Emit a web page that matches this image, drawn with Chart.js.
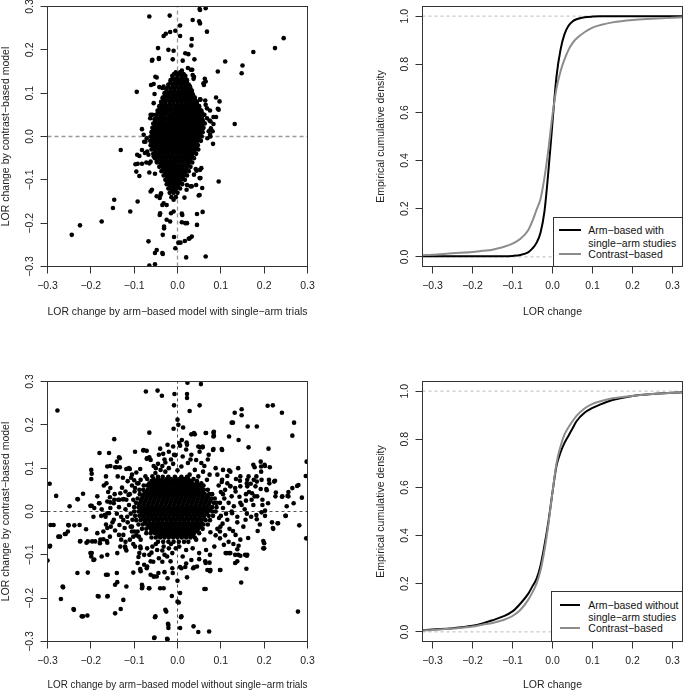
<!DOCTYPE html>
<html>
<head>
<meta charset="utf-8">
<title>LOR change: arm-based vs contrast-based</title>
<script src="https://cdn.jsdelivr.net/npm/chart.js@4.4.1/dist/chart.umd.min.js"></script>
<style>
  body { margin: 0; background: #fff; }
  #wrap { position: relative; width: 683px; height: 691px; overflow: hidden; font-family: "Liberation Sans", Arial, sans-serif; }
  canvas { position: absolute; }
  .legend { position: absolute; box-sizing: border-box; background: #fff; border: 1px solid #333; font-size: 10.5px; color: #111; }
  .legend span { position: absolute; line-height: 12px; white-space: nowrap; }
  .legend .ln { position: absolute; height: 2px; }
</style>
</head>
<body>
<div id="wrap">
  <canvas id="c1" width="330" height="330" style="left:0;top:0"></canvas>
  <canvas id="c2" width="308" height="330" style="left:375px;top:0"></canvas>
  <canvas id="c3" width="330" height="316" style="left:0;top:375px"></canvas>
  <canvas id="c4" width="308" height="316" style="left:375px;top:375px"></canvas>

  <div class="legend" style="left:552.5px;top:217px;width:130.5px;height:50px">
    <div class="ln" style="left:5.5px;top:11px;width:21.7px;background:#000"></div>
    <span style="left:34.8px;top:6px">Arm−based with</span>
    <span style="left:34.8px;top:18.6px">single−arm studies</span>
    <div class="ln" style="left:5.5px;top:35px;width:21.7px;background:#8c8c8c"></div>
    <span style="left:34.8px;top:30px">Contrast−based</span>
  </div>
  <div class="legend" style="left:550.5px;top:590.5px;width:132.5px;height:51.5px">
    <div class="ln" style="left:8.5px;top:12.5px;width:19.5px;background:#000"></div>
    <span style="left:36.8px;top:7.5px">Arm−based without</span>
    <span style="left:36.8px;top:19.8px">single−arm studies</span>
    <div class="ln" style="left:8.5px;top:35.8px;width:19.5px;background:#8c8c8c"></div>
    <span style="left:36.8px;top:30.8px">Contrast−based</span>
  </div>
</div>
<script>
// ---- data (LOR change values) ----

// scatter 1: arm-based with single-arm trials (x) vs contrast-based (y), scattered points
const withSingleArm = [
  [-.065,.277],[-.018,.279],[.051,.294],[.065,.296],[.035,.269],[.05,.266],[.052,.261],[.006,.256],[.068,.242],
  [-.005,.244],[-.017,.241],[-.027,.237],[-.032,.232],[.006,.232],[.033,.225],[.032,.21],[-.045,.204],[-.021,.2],
  [-.009,.198],[.018,.192],[.025,.19],[-.059,.175],[-.043,.179],[-.011,.178],[.012,.175],[.039,.178],[.024,.158],
  [.031,.154],[.01,.152],[.035,.142],[.037,.133],[.063,.133],[.06,.123],[-.048,.136],[-.032,.115],[-.055,.121],
  [-.042,.114],[-.094,.103],[.029,.115],[.033,.106],[-.034,.088],[-.055,.077],[.052,.086],[.064,.083],[.089,.09],
  [.097,.081],[.068,.065],[.095,.062],[.075,.06],[-.062,.05],[-.063,.042],[.062,.05],[.068,.042],[.074,.037],
  [.083,.045],[.089,.045],[.132,.029],[.083,.029],[.077,.019],[.072,.012],[-.082,.017],[-.078,.004],[-.071,-.004],
  [-.077,-.012],[.075,.004],[.069,-.004],[.082,-.017],[-.131,-.031],[-.082,-.031],[-.075,-.038],[-.088,-.045],
  [-.067,-.042],[-.072,-.06],[-.092,-.063],[-.082,-.063],[-.065,-.062],[-.055,-.046],[-.048,-.058],[-.095,-.081],
  [-.088,-.091],[-.065,-.083],[-.052,-.086],[.095,-.104],[.042,-.075],[.052,-.077],[.038,-.088],[.051,-.096],
  [.043,-.112],[.033,-.115],[.022,-.112],[-.062,-.127],[-.059,-.123],[-.038,-.131],[-.041,-.142],[-.048,-.138],
  [.051,-.135],[-.032,-.154],[-.025,-.158],[-.009,-.146],[-.146,-.146],[-.149,-.165],[-.092,-.15],[-.109,-.173],
  [-.04,-.177],[-.041,-.181],[-.015,-.177],[-.009,-.173],[.045,-.179],[.058,-.174],[-.025,-.192],[-.017,-.196],
  [.01,-.178],[-.175,-.196],[-.225,-.205],[-.244,-.227],[.01,-.198],[.022,-.2],[.045,-.204],[-.031,-.212],
  [-.034,-.227],[.033,-.231],[.028,-.235],[-.067,-.242],[-.008,-.232],[-.005,-.258],[.002,-.245],[.007,-.245],
  [.017,-.241],[-.048,-.262],[-.052,-.269],[-.034,-.271],[.02,-.279],[.065,-.277],[-.065,-.298],[-.052,-.295],
  [.245,.227],[.225,.204],[.175,.195],[.11,.173],[.15,.164],[.148,.146],[.093,.15],
  [-.074,-.012],[-.093,-.042],[-.097,-.064],[-.07,-.035],[-.062,-.058],[-.054,.012],[-.058,.05],[-.061,.119],
  [-.053,.098],[-.051,.138],[-.058,.177],[-.043,.181],[-.035,.112],[-.039,-.135],[-.035,-.158],[-.031,-.208],
  [-.035,-.269],[.052,.292],[.093,.064],[.076,.035],[.081,.012],[.076,0],[.065,.127],[.061,.119],[.034,.154],
  [.038,.138],[.053,.085],[.065,.073],[.045,.065],[.055,-.073],[.044,-.079],[.053,-.096],[.057,-.119],
  [.049,-.136],[.03,-.115],[.021,-.123],[.016,-.141],[.011,-.181],[.018,-.2],[.026,-.236]
];
// dense core of scatter 1, one row per y value: [y, x, x, ...]
const withSingleArmCore = [
  [.148,-.004,.006],
  [.144,-.008,.004,.014],
  [.14,-.012,0,.01,.018],
  [.135,-.011,-.001,.009,.018],
  [.13,-.016,-.006,.004,.013,.022],
  [.125,-.016,-.006,.003,.012,.021],
  [.12,-.021,-.011,-.002,.008,.017,.026],
  [.115,-.021,-.011,-.002,.007,.016,.025],
  [.11,-.026,-.016,-.007,.003,.012,.021,.03],
  [.105,-.025,-.016,-.007,.002,.011,.02,.029],
  [.1,-.03,-.021,-.012,-.002,.007,.016,.025,.034],
  [.095,-.029,-.02,-.01,-.001,.009,.018,.027,.036],
  [.09,-.034,-.025,-.015,-.006,.004,.013,.022,.031,.04],
  [.085,-.033,-.024,-.014,-.005,.004,.013,.022,.031,.04],
  [.08,-.038,-.029,-.019,-.01,0,.009,.018,.027,.036,.045],
  [.075,-.037,-.028,-.018,-.009,0,.009,.018,.027,.036,.045],
  [.07,-.042,-.033,-.023,-.014,-.004,.005,.014,.023,.032,.041,.05],
  [.065,-.041,-.031,-.022,-.013,-.003,.006,.015,.024,.033,.042,.05],
  [.06,-.046,-.036,-.027,-.018,-.008,.001,.01,.019,.028,.037,.046,.055],
  [.055,-.045,-.035,-.026,-.016,-.007,.002,.011,.02,.029,.038,.047,.056],
  [.05,-.05,-.04,-.031,-.021,-.012,-.003,.006,.015,.024,.033,.042,.051,.06],
  [.045,-.048,-.038,-.029,-.019,-.01,-.001,.008,.017,.026,.035,.044,.053],
  [.04,-.053,-.043,-.034,-.024,-.015,-.006,.003,.012,.021,.03,.039,.048,.057],
  [.035,-.051,-.041,-.032,-.022,-.013,-.004,.005,.014,.023,.032,.041,.05,.059],
  [.03,-.056,-.046,-.037,-.027,-.018,-.009,0,.009,.018,.027,.036,.045,.054,.063],
  [.025,-.053,-.043,-.034,-.025,-.016,-.007,.002,.011,.02,.029,.038,.047,.056],
  [.02,-.058,-.048,-.039,-.03,-.021,-.012,-.003,.006,.015,.024,.033,.042,.051,.06],
  [.015,-.055,-.045,-.036,-.027,-.018,-.009,0,.009,.018,.027,.036,.045,.054],
  [.01,-.06,-.05,-.041,-.032,-.023,-.014,-.005,.004,.013,.022,.031,.04,.049,.058],
  [.005,-.057,-.047,-.038,-.029,-.02,-.011,-.002,.007,.016,.025,.034,.043,.052],
  [0,-.062,-.052,-.043,-.034,-.025,-.016,-.007,.002,.011,.02,.029,.038,.047,.056],
  [-.005,-.058,-.048,-.039,-.03,-.021,-.012,-.003,.006,.015,.024,.033,.042,.05],
  [-.01,-.063,-.053,-.044,-.035,-.026,-.017,-.008,.001,.01,.019,.028,.037,.046,.054],
  [-.015,-.058,-.048,-.039,-.03,-.021,-.012,-.003,.006,.015,.024,.033,.042],
  [-.02,-.062,-.052,-.043,-.034,-.025,-.016,-.007,.002,.011,.02,.029,.038,.047],
  [-.025,-.056,-.046,-.037,-.028,-.019,-.01,-.001,.008,.017,.026,.035,.044],
  [-.03,-.06,-.05,-.041,-.032,-.023,-.014,-.005,.004,.013,.022,.031,.04,.048],
  [-.035,-.052,-.042,-.033,-.024,-.015,-.006,.003,.012,.021,.03,.039],
  [-.04,-.056,-.047,-.038,-.029,-.02,-.011,-.002,.007,.016,.025,.034,.043],
  [-.045,-.048,-.039,-.03,-.021,-.012,-.003,.006,.015,.024,.033],
  [-.05,-.052,-.043,-.034,-.025,-.016,-.007,.002,.011,.02,.029,.038],
  [-.055,-.043,-.034,-.025,-.016,-.007,.002,.011,.02,.029],
  [-.06,-.047,-.038,-.029,-.02,-.011,-.002,.007,.016,.025,.034],
  [-.065,-.038,-.029,-.02,-.011,-.002,.007,.016,.025],
  [-.07,-.042,-.033,-.024,-.015,-.006,.003,.012,.021,.03],
  [-.075,-.033,-.024,-.015,-.006,.003,.012,.021],
  [-.08,-.037,-.028,-.019,-.01,-.001,.008,.017,.026],
  [-.085,-.028,-.019,-.01,-.001,.008,.017],
  [-.09,-.032,-.023,-.014,-.005,.004,.013,.022],
  [-.095,-.024,-.015,-.006,.003,.012],
  [-.1,-.028,-.019,-.01,-.001,.008,.017],
  [-.105,-.021,-.012,-.003,.006],
  [-.11,-.025,-.016,-.007,.002,.011],
  [-.115,-.017,-.008,.001],
  [-.12,-.021,-.012,-.003,.006],
  [-.125,-.014,-.005],
  [-.13,-.018,-.009,0],
  [-.14,-.014,-.004]
];

// scatter 2: arm-based without single-arm trials (x) vs contrast-based (y)
const withoutSingleArm = [
  [.023,.297],[.054,.294],[-.073,.277],[-.046,.279],[-.036,.267],[-.007,.271],[.022,.271],[.022,.262],[.051,.245],
  [-.008,.245],[.028,.232],[-.277,.233],[.148,.222],[.132,.228],[.208,.244],[.22,.245],[.241,.228],[.269,.205],
  [0,.212],[.002,.2],[-.009,.191],[-.065,.182],[.125,.205],[.162,.196],[.183,.196],[.265,.175],[.032,.178],
  [.04,.178],[.065,.181],[.083,.182],[.083,.173],[.022,.154],[.119,.173],[.141,.165],[.164,.148],[.21,.145],
  [-.146,.167],[-.023,.154],[.006,.152],[.052,.148],[.058,.148],[.102,.144],[.083,.144],[-.18,.135],[-.078,.142],
  [-.071,.14],[-.098,.138],[-.065,.125],[-.071,.122],[-.135,.125],[-.14,.115],[-.162,.104],[-.155,.105],
  [-.144,.102],[-.133,.102],[-.118,.098],[-.11,.098],[-.086,.098],[-.199,.096],[-.199,.075],[-.165,.081],
  [-.138,.081],[-.126,.078],[-.107,.078],[-.295,.064],[-.28,.036],[-.23,.028],[-.218,.041],[.298,.115],
  [.296,.082],[.279,.061],[.287,.032],[.254,.036],[.241,.034],[.252,.012],[.25,-.01],[.268,.019],[.193,.104],
  [.202,.105],[.213,.102],[.193,.092],[.182,.081],[.164,.081],[.145,.081],[.122,.092],[.105,.096],[.178,.102],
  [.16,.065],[.169,.064],[.183,.069],[.18,.058],[.192,.052],[.206,.049],[.212,.065],[.223,.069],[.145,.058],
  [.133,.054],[.122,.059],[.143,.034],[.158,.04],[.171,.027],[.175,.015],[.196,.015],[.202,.002],[.183,-.018],
  [.158,.025],[.148,.015],[.16,-.005],[.218,-.025],[.231,-.027],[.221,-.04],[.198,-.068],[.198,-.085],
  [.098,-.062],[.129,-.075],[.122,-.096],[.114,-.096],[.133,-.1],[.133,-.119],[.141,-.079],[.138,-.087],
  [.145,-.102],[.156,-.1],[.16,-.102],[.147,-.164],[.159,-.132],[.098,-.135],[.075,-.138],[.069,-.135],
  [.064,-.115],[.074,-.118],[.062,-.179],[.278,-.231],[.038,-.129],[.045,-.127],[.022,-.152],[.006,-.128],
  [.018,-.128],[-.023,-.154],[-.011,-.142],[-.04,-.177],[-.032,-.177],[-.062,-.146],[-.055,-.15],[-.044,-.142],
  [-.085,-.138],[-.086,-.133],[-.071,-.131],[-.092,-.119],[-.065,-.177],[-.082,-.177],[-.082,-.169],[.006,-.188],
  [-.013,-.195],[0,-.208],[-.026,-.231],[.008,-.244],[-.052,-.244],[-.021,-.262],[-.021,-.269],[.006,-.269],
  [.037,-.265],[.048,-.278],[.073,-.277],[-.054,-.292],[-.023,-.295],[-.14,-.142],[-.144,-.169],[-.118,-.173],
  [-.162,-.196],[-.182,-.196],[-.125,-.204],[-.131,-.225],[-.144,-.235],[-.208,-.24],[-.221,-.242],[-.24,-.225],
  [-.269,-.202],[-.265,-.173],[-.231,-.142],[-.3,-.113],[-.295,-.081],[-.286,-.031],[-.275,-.058],[-.26,-.052],
  [-.253,-.046],[-.252,-.031],[-.226,-.031],[-.225,-.069],[-.211,-.041],[-.207,-.069],[-.198,-.096],[-.194,-.112],
  [-.199,-.104],[-.19,-.069],[-.178,-.065],[-.163,-.068],[-.162,-.1],[-.165,-.146],[-.175,-.104],[-.198,.013],
  [-.192,.008],[-.18,.019],[-.194,-.012],[-.168,-.008],[-.162,-.004],[-.155,.008],[-.154,-.035],[-.144,-.044],
  [-.134,-.031],[-.125,-.054],[-.121,-.081],[-.118,-.09],[-.155,.021],[-.146,.027],[-.134,.027],[-.126,.028],
  [-.118,.027],[-.113,.038],[-.12,.046],[-.132,.042],[-.098,.054],[-.088,.05],[-.155,.054],[-.102,-.058],
  [-.092,-.046],[-.105,-.046],[-.098,-.081],[-.086,-.081],[-.088,-.096],[-.132,-.081],
  [-.158,.135],[-.133,.123],[-.079,.141],[-.07,.123],[-.062,.119],[-.043,.131],[-.033,.133],[-.02,.138],
  [-.008,.131],[-.028,.113],[-.141,.102],[-.198,.087],[-.164,.065],[-.099,.046],[-.093,.065],[-.085,.073],
  [-.074,.081],[-.058,.081],[-.051,.089],[-.039,.096],[-.028,.092],[-.249,.012],[-.231,.029],[-.201,.013],
  [-.181,.019],[-.162,.023],[-.156,.033],[-.147,.019],[-.137,.027],[-.124,.029],[-.102,.027],[-.176,-.01],
  [-.166,-.012],[-.158,-.004],[-.147,-.019],[-.13,-.012],[-.116,-.012],[-.104,-.019],[-.293,-.031],[-.271,-.058],
  [-.258,-.052],[-.251,-.032],[-.238,-.032],[-.224,-.068],[-.21,-.072],[-.197,-.069],[-.179,-.073],[-.171,-.064],
  [-.162,-.072],[-.156,-.058],[-.171,-.046],[-.162,-.038],[-.135,-.054],[-.122,-.038],[-.108,-.035],[-.099,-.046],
  [-.089,-.058],[-.12,-.085],[-.139,-.096],[-.201,-.096],[-.192,-.111],[-.207,-.141],[-.294,-.079],[-.264,-.175],
  [-.239,-.227],[-.218,-.242],[-.184,-.195],[-.161,-.195],[-.161,-.146],[-.139,-.163],[-.102,-.141],[-.081,-.173],
  [-.066,-.177],[-.054,-.15],[-.048,-.15],[-.028,-.227],[-.051,-.242],[-.022,-.259],[-.053,-.291],[-.024,-.294],
  [-.077,-.123],[-.07,-.127],[-.062,-.115],[-.056,-.116],[-.043,-.108],[-.035,-.116],[-.024,-.104],[-.016,-.115],
  [-.012,-.131],[-.085,-.085],[-.077,-.1],[-.07,-.085],[-.058,-.081],[-.047,-.089],[-.032,-.081],[-.012,-.096],
  [-.004,-.085],[.148,.236],[.128,.205],[.276,.059],[.265,.054],[.256,.045],[.256,.035],[.242,.035],[.226,.035],
  [.227,.044],[.205,.052],[.211,.073],[.225,.071],[.194,.073],[.176,.073],[.161,.073],[.144,.071],[.201,.108],
  [.192,.115],[.175,.108],[.14,.1],[.119,.095],[.103,.142],[.084,.184],[.084,.175],[.066,.181],[.038,.181],
  [.013,.194],[.021,.159],[.048,.15],[.058,.15],[.051,.138],[.072,.131],[.07,.12],[.082,.142],[.088,.1],
  [.103,.073],[.122,.058],[.134,.046],[.161,.058],[.172,.042],[.184,.035],[.196,.027],[.209,.019],[.194,-.002],
  [.202,-.01],[.182,-.008],[.157,-.019],[.138,-.012],[.126,-.004],[.115,-.019],[.099,-.035],[.098,-.046],
  [.134,-.054],[.145,-.065],[.163,-.061],[.2,-.073],[.2,-.085],[.22,-.038],[.232,-.027],[.249,-.01],[.281,-.032],
  [.297,-.062],[.161,-.1],[.14,-.1],[.138,-.115],[.119,-.096],[.111,-.096],[.107,-.077],[.099,-.135],[.076,-.135],
  [.065,-.119],[.036,-.131],[.009,-.131],[.065,-.179],[.003,-.21],[.009,-.242],[.076,-.048],
  [.004,.158],[.02,.143],[.012,.127],[.032,.131],[.043,.119],[.055,.112],[.024,.112],[.04,.096],[.059,.092],
  [.074,.085],[.009,.104],[.028,.085],[.048,.081],[.068,.073],[.004,-.081],[.02,-.089],[.035,-.085],[.05,-.096],
  [.012,-.104],[.032,-.112],[.066,-.089],[.085,-.081],[.043,-.065],[.062,-.065],[.095,.06],[.1,.045],[.108,.03],
  [.098,.02],[.105,.008],[.112,-.005],[.096,-.015],[.104,-.028],[.092,-.04],[.088,-.055],[.11,.05],[.118,.02],
  [.125,0],[.12,-.04],[.102,.068],[-.105,.06],[-.11,.04],[-.112,.015],[-.108,-.005],[-.115,-.025],[-.105,-.035],
  [-.095,-.055],[-.085,-.065],[-.078,.06],[-.09,.065],[-.07,.075],[-.12,.005],[-.125,-.02],[-.1,.072],
  [-.05,.1],[-.035,.105],[-.02,.1],[-.01,.11],[-.045,.11],[-.015,.12],[0,.095],[-.005,.13],[-.03,.12],
  [-.05,-.075],[-.035,-.09],[-.02,-.085],[-.015,-.075],[-.06,-.095],[-.03,-.1],
  [.105,.04],[.115,.065],[.125,.035],[.13,.012],[.138,-.025],[.145,.02],[.152,-.035],[.165,.045],[.17,-.012],
  [.178,.035],[.185,-.045],[.11,-.055],[.118,-.07],[.092,.085],[.1,-.01],[.128,-.045],[.155,.005],[.19,-.03],
  [.115,.082],[.135,.075],[-.105,.085],[-.115,.07],[-.128,.055],[-.135,.01],[-.14,-.005],[-.145,.04],[-.15,-.025],
  [-.16,.045],[-.165,-.03],[-.175,.005],[-.185,-.05],[-.11,-.065],[-.12,-.07],[-.095,.09],[-.102,-.075],
  [-.13,-.065],[-.17,.06],[-.185,.035],[-.112,.1],[-.09,-.105],[-.01,.15],[.01,.165],[.03,.12],[-.04,.145],
  [-.055,.105],[.062,.105],[0,-.16],[.02,-.12],[-.03,-.14],[.05,-.11],[-.065,-.1],[.075,-.1]
];
const withoutSingleArmCore = [
  [.08,-.045,-.034,-.021,-.006,.009,.022],
  [.075,-.055,-.045,-.035,-.025,-.015,-.005,.005,.015,.025,.037],
  [.07,-.06,-.05,-.04,-.03,-.02,-.01,0,.01,.02,.031,.045],
  [.065,-.065,-.055,-.045,-.035,-.025,-.015,-.005,.005,.015,.025,.035,.045,.055],
  [.06,-.07,-.06,-.05,-.04,-.03,-.02,-.01,0,.01,.02,.03,.04,.05,.06],
  [.055,-.064,-.054,-.044,-.034,-.024,-.014,-.004,.006,.016,.026,.036,.046,.056],
  [.05,-.079,-.069,-.059,-.049,-.039,-.029,-.019,-.009,.001,.011,.021,.031,.041,.051,.061,.07],
  [.045,-.072,-.062,-.052,-.042,-.032,-.022,-.012,-.002,.008,.018,.028,.038,.048,.058],
  [.04,-.087,-.077,-.067,-.057,-.047,-.037,-.027,-.017,-.007,.003,.013,.023,.033,.043,.053,.063,.073,.08],
  [.035,-.08,-.07,-.06,-.05,-.04,-.03,-.02,-.01,0,.01,.02,.03,.04,.05,.06,.07],
  [.03,-.092,-.082,-.072,-.062,-.052,-.042,-.032,-.022,-.012,-.002,.008,.018,.028,.038,.048,.058,.068,.078,.086],
  [.025,-.084,-.074,-.064,-.054,-.044,-.034,-.024,-.014,-.004,.006,.016,.026,.036,.046,.056,.066,.076],
  [.02,-.096,-.086,-.076,-.066,-.056,-.046,-.036,-.026,-.016,-.006,.004,.014,.024,.034,.044,.054,.064,.074,.084,.09],
  [.015,-.088,-.078,-.068,-.058,-.048,-.038,-.028,-.018,-.008,.002,.012,.022,.032,.042,.052,.062,.072],
  [.01,-.1,-.09,-.08,-.07,-.06,-.05,-.04,-.03,-.02,-.01,0,.01,.02,.03,.04,.05,.06,.07,.08,.09],
  [.005,-.085,-.075,-.065,-.055,-.045,-.035,-.025,-.015,-.005,.005,.015,.025,.035,.045,.055,.065,.075],
  [0,-.1,-.09,-.08,-.07,-.06,-.05,-.04,-.03,-.02,-.01,0,.01,.02,.03,.04,.05,.06,.07,.08,.088],
  [-.005,-.083,-.073,-.063,-.053,-.043,-.033,-.023,-.013,-.003,.007,.017,.027,.037,.047,.057,.067],
  [-.01,-.098,-.088,-.078,-.068,-.058,-.048,-.038,-.028,-.018,-.008,.002,.012,.022,.032,.042,.052,.062,.072,.082],
  [-.015,-.08,-.07,-.06,-.05,-.04,-.03,-.02,-.01,0,.01,.02,.03,.04,.05,.06],
  [-.02,-.095,-.085,-.075,-.065,-.055,-.045,-.035,-.025,-.015,-.005,.005,.015,.025,.035,.045,.055,.065,.075],
  [-.025,-.075,-.065,-.055,-.045,-.035,-.025,-.015,-.005,.005,.015,.025,.035,.045,.055],
  [-.03,-.09,-.08,-.07,-.06,-.05,-.04,-.03,-.02,-.01,0,.01,.02,.03,.04,.05,.06,.07],
  [-.035,-.067,-.057,-.047,-.037,-.027,-.017,-.007,.003,.013,.023,.033,.043,.053],
  [-.04,-.082,-.072,-.062,-.052,-.042,-.032,-.022,-.012,-.002,.008,.018,.028,.038,.048,.058],
  [-.045,-.057,-.047,-.037,-.027,-.017,-.007,.003,.013,.023,.033,.043],
  [-.05,-.072,-.062,-.052,-.042,-.032,-.022,-.012,-.002,.008,.018,.028,.038,.05],
  [-.055,-.045,-.035,-.025,-.015,-.005,.005,.015,.025,.035],
  [-.06,-.06,-.05,-.04,-.03,-.02,-.01,0,.01,.02,.03,.04],
  [-.07,-.045,-.033,-.021,-.009,.003,.015,.025]
];

// empirical cumulative densities
const ecdfX =         [-.325,-.3,-.25,-.2,-.175,-.15,-.125,-.1,-.08,-.06,-.05,-.04,-.03,-.02,-.01,0,.01,.02,.03,.04,.05,.06,.08,.1,.12,.15,.2,.25,.3,.325];
const armWith =       [.003,.003,.003,.003,.003,.003,.003,.004,.008,.02,.035,.058,.1,.19,.36,.56,.75,.86,.925,.96,.978,.987,.995,.998,.999,.999,1,1,1,1];
const contrastA =     [.007,.009,.015,.02,.025,.03,.04,.055,.075,.113,.15,.195,.24,.33,.45,.59,.7,.77,.82,.86,.888,.907,.933,.952,.963,.974,.984,.989,.993,.995];
const armWithout =    [.007,.01,.015,.025,.035,.048,.063,.085,.118,.16,.19,.22,.275,.36,.46,.58,.69,.745,.785,.815,.845,.875,.91,.93,.945,.963,.98,.988,.993,.995];
const contrastB =     [.006,.008,.014,.022,.03,.037,.048,.066,.092,.135,.165,.2,.255,.34,.45,.58,.7,.77,.82,.85,.875,.897,.928,.947,.958,.97,.98,.988,.993,.995];

const lorTicks = [-.3,-.2,-.1,0,.1,.2,.3];
const cdfTicks = [0,.2,.4,.6,.8,1];

// ---- drawing ----
const FONT = { family: '"Liberation Sans", Arial, Helvetica, sans-serif', size: 10.5 };
const INK = '#222';
const BOX = { left: 47.5, top: 6.5, w: 260, h: 260 };

function fmt(v) { return (v < 0 ? '\u2212' : '') + Math.abs(v).toFixed(1); }

function scatterPoints(pairs, rows) {
  const pts = pairs.map(p => ({ x: p[0], y: p[1] }));
  rows.forEach(r => r.slice(1).forEach(x => pts.push({ x: x, y: r[0] })));
  return pts;
}
function curve(ys) { return ecdfX.map((x, i) => ({ x: x, y: ys[i] })); }
function refLine(pts, color, width, dash) {
  return { data: pts, showLine: true, pointRadius: 0, borderColor: color, borderWidth: width, borderDash: dash };
}

const frame = {
  id: 'frame',
  afterDatasetsDraw(chart) {
    const a = chart.chartArea, c = chart.ctx;
    c.save();
    c.strokeStyle = '#333';
    c.lineWidth = 1;
    c.strokeRect(a.left, a.top, a.right - a.left, a.bottom - a.top);
    c.restore();
  }
};

function panel(id, o) {
  const cv = document.getElementById(id);
  const W = cv.width, H = cv.height;
  new Chart(cv, {
    type: 'scatter',
    data: { datasets: o.datasets },
    options: {
      responsive: false,
      animation: false,
      events: [],
      layout: { padding: { left: 0, top: BOX.top, right: W - BOX.left - BOX.w, bottom: 0 } },
      plugins: { legend: { display: false }, tooltip: { enabled: false } },
      scales: {
        x: {
          type: 'linear', min: o.xMin, max: o.xMax,
          afterBuildTicks: s => { s.ticks = o.xTicks.map(v => ({ value: v })); },
          afterFit: s => { s.height = H - BOX.top - BOX.h; s.paddingLeft = 0; s.paddingRight = 0; },
          border: { display: false },
          grid: { drawOnChartArea: false, tickLength: 7, tickColor: '#333' },
          ticks: { color: INK, font: FONT, padding: 6, maxRotation: 0, autoSkip: false, callback: fmt },
          title: { display: true, text: o.xTitle, color: INK, font: FONT, padding: { top: 0, bottom: o.xTitlePad } }
        },
        y: {
          type: 'linear', min: o.yMin, max: o.yMax,
          afterBuildTicks: s => { s.ticks = o.yTicks.map(v => ({ value: v })); },
          afterFit: s => { s.width = BOX.left; s.paddingTop = 0; s.paddingBottom = 0; },
          border: { display: false },
          grid: { drawOnChartArea: false, tickLength: 7, tickColor: '#333' },
          ticks: { color: INK, font: FONT, padding: o.yTickPad, minRotation: 90, maxRotation: 90,
                   crossAlign: 'center', autoSkip: false, callback: fmt },
          title: { display: true, text: o.yTitle, color: INK, font: FONT, padding: { top: 0, bottom: 0 } }
        }
      }
    },
    plugins: [frame]
  });
}

function dots(pts) {
  return { data: pts, pointRadius: 2.3, pointBackgroundColor: '#000', pointBorderWidth: 0, showLine: false };
}

panel('c1', {
  xMin: -.3, xMax: .3, yMin: -.3, yMax: .3, xTicks: lorTicks, yTicks: lorTicks, yTickPad: 0, xTitlePad: 12,
  xTitle: 'LOR change by arm−based model with single−arm trials',
  yTitle: 'LOR change by contrast−based model',
  datasets: [
    dots(scatterPoints(withSingleArm, withSingleArmCore)),
    refLine([{ x: -.3, y: 0 }, { x: .3, y: 0 }], '#999', 1.3, [4, 3]),
    refLine([{ x: 0, y: -.3 }, { x: 0, y: .3 }], '#999', 1.3, [4, 3])
  ]
});

panel('c3', {
  xMin: -.3, xMax: .3, yMin: -.3, yMax: .3, xTicks: lorTicks, yTicks: lorTicks, yTickPad: 0, xTitlePad: 0,
  xTitle: 'LOR change by arm−based model without single−arm trials',
  yTitle: 'LOR change by contrast−based model',
  datasets: [
    dots(scatterPoints(withoutSingleArm, withoutSingleArmCore)),
    refLine([{ x: -.3, y: 0 }, { x: .3, y: 0 }], '#555', 1, [3, 3]),
    refLine([{ x: 0, y: -.3 }, { x: 0, y: .3 }], '#555', 1, [3, 3])
  ]
});

function cdfPanel(id, blackYs, grayYs, titlePad) {
  panel(id, {
    xMin: -.325, xMax: .325, yMin: -.04, yMax: 1.04, xTicks: lorTicks, yTicks: cdfTicks, yTickPad: 3.5,
    xTitlePad: titlePad,
    xTitle: 'LOR change',
    yTitle: 'Empirical cumulative density',
    datasets: [
      { data: curve(grayYs), showLine: true, pointRadius: 0, borderColor: '#8c8c8c', borderWidth: 2,
        cubicInterpolationMode: 'monotone' },
      { data: curve(blackYs), showLine: true, pointRadius: 0, borderColor: '#000', borderWidth: 2,
        cubicInterpolationMode: 'monotone' },
      refLine([{ x: -.325, y: 0 }, { x: .325, y: 0 }], '#bbb', 1, [3, 3]),
      refLine([{ x: -.325, y: 1 }, { x: .325, y: 1 }], '#bbb', 1, [3, 3])
    ]
  });
}
cdfPanel('c2', armWith, contrastA, 12);
cdfPanel('c4', armWithout, contrastB, 0);
</script>
</body>
</html>
